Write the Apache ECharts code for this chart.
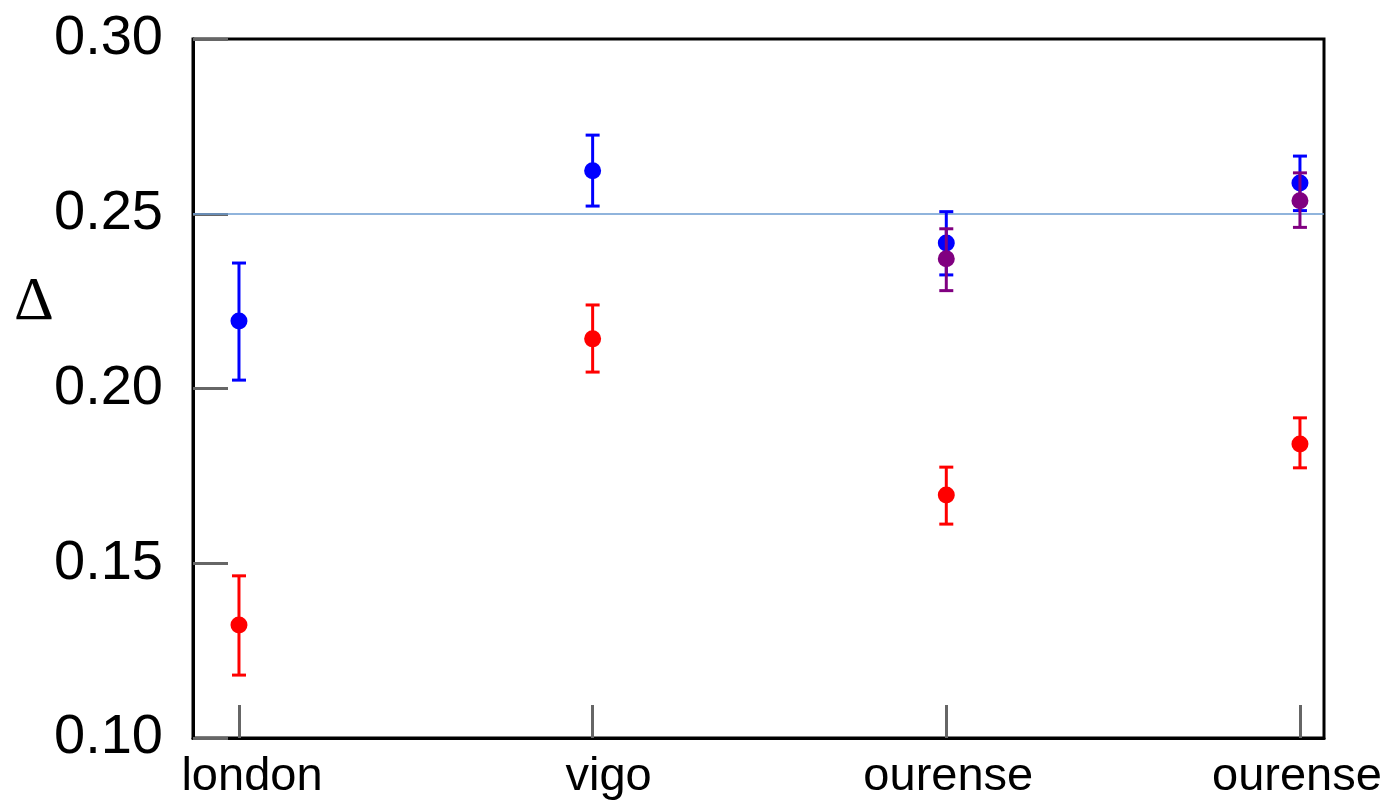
<!DOCTYPE html>
<html>
<head>
<meta charset="utf-8">
<style>
  html, body { margin: 0; padding: 0; background: #ffffff; }
  #chart { width: 1385px; height: 807px; }
</style>
<script src="https://cdn.jsdelivr.net/npm/echarts@6/dist/echarts.min.js"></script>
</head>
<body>
<div id="chart"></div>
<script>
// ---- data ----
var categories = ['london', 'vigo', 'ourense', 'ourense'];
var yTicks = [0.10, 0.15, 0.20, 0.25, 0.30];

var blueVal = [0.2193, 0.2623, 0.2416, 0.2588];
var blueLo  = [0.2024, 0.2522, 0.2325, 0.2509];
var blueHi  = [0.2359, 0.2725, 0.2506, 0.2665];

var redVal = [0.1323, 0.2142, 0.1695, 0.1841];
var redLo  = [0.1180, 0.2047, 0.1612, 0.1773];
var redHi  = [0.1464, 0.2239, 0.1775, 0.1916];

var purpleVal = [null, null, 0.2371, 0.2537];
var purpleLo  = [null, null, 0.2280, 0.2461];
var purpleHi  = [null, null, 0.2457, 0.2617];

var refLine = 0.25;

// ---- styling helpers ----
var labelPad = [[0,0,0,26],[0,0,0,32],[0,0,0,4],[0,6,0,0]];
var rich = {};
labelPad.forEach(function (p, i) {
  rich['c' + i] = { fontFamily: 'Liberation Sans, Arial, sans-serif', fontSize: 47, color: '#000', padding: p };
});

function pts(vals) {
  var out = [];
  vals.forEach(function (v, i) { if (v !== null) out.push([i, v]); });
  return out;
}
function bars(lo, hi) {
  var out = [];
  lo.forEach(function (v, i) { if (v !== null) out.push([i, lo[i], hi[i]]); });
  return out;
}
function errSeries(lo, hi, color, z) {
  return {
    type: 'custom',
    z: z,
    data: bars(lo, hi),
    encode: { x: 0, y: [1, 2] },
    renderItem: function (params, api) {
      var x = api.value(0);
      var a = api.coord([x, api.value(1)]);
      var b = api.coord([x, api.value(2)]);
      var hw = 7;
      var st = { stroke: color, lineWidth: 3 };
      return {
        type: 'group',
        children: [
          { type: 'line', shape: { x1: a[0], y1: a[1], x2: b[0], y2: b[1] }, style: st },
          { type: 'line', shape: { x1: a[0] - hw, y1: a[1], x2: a[0] + hw, y2: a[1] }, style: st },
          { type: 'line', shape: { x1: b[0] - hw, y1: b[1], x2: b[0] + hw, y2: b[1] }, style: st }
        ]
      };
    }
  };
}
function ptSeries(vals, color, z) {
  return {
    type: 'scatter',
    z: z,
    symbol: 'circle',
    symbolSize: 17,
    itemStyle: { color: color, opacity: 1 },
    data: pts(vals)
  };
}

var chart = echarts.init(document.getElementById('chart'));
chart.setOption({
  animation: false,
  backgroundColor: '#ffffff',
  title: {
    text: 'Δ',
    left: 14,
    top: 272,
    padding: 0,
    textStyle: { fontFamily: '"Liberation Serif", "Times New Roman", serif', fontSize: 62, fontWeight: 'normal', color: '#000' }
  },
  grid: {
    left: 193, right: 61, top: 39, bottom: 69,
    show: true, borderColor: '#000', borderWidth: 3, backgroundColor: 'transparent'
  },
  xAxis: {
    type: 'value',
    min: -0.13,
    max: 3.068,
    axisLine: { show: true, onZero: false, lineStyle: { color: '#000', width: 3 } },
    axisTick: { show: true, inside: true, length: 33, customValues: [0, 1, 2, 3], lineStyle: { color: '#666', width: 3 } },
    axisLabel: {
      customValues: [0, 1, 2, 3],
      margin: 16,
      formatter: function (v) { var i = Math.round(v); return '{c' + i + '|' + categories[i] + '}'; },
      rich: rich
    },
    splitLine: { show: false }
  },
  yAxis: {
    type: 'value',
    min: 0.10,
    max: 0.30,
    interval: 0.05,
    axisLine: { show: true, onZero: false, lineStyle: { color: '#000', width: 3 } },
    axisTick: { show: true, inside: true, length: 35, lineStyle: { color: '#666', width: 3 } },
    axisLabel: {
      margin: 30,
      fontFamily: 'Liberation Sans, Arial, sans-serif',
      fontSize: 56,
      color: '#000',
      formatter: function (v) { return v.toFixed(2); },
      customValues: yTicks
    },
    splitLine: { show: false }
  },
  series: [
    {
      type: 'line',
      data: [],
      z: 1,
      markLine: {
        silent: true,
        symbol: 'none',
        label: { show: false },
        lineStyle: { color: '#6b9bd1', width: 1.5, type: 'solid' },
        data: [{ yAxis: refLine }]
      }
    },
    errSeries(redLo, redHi, '#ff0000', 3),
    ptSeries(redVal, '#ff0000', 4),
    errSeries(blueLo, blueHi, '#0000ff', 5),
    ptSeries(blueVal, '#0000ff', 6),
    errSeries(purpleLo, purpleHi, '#800080', 7),
    ptSeries(purpleVal, '#800080', 8)
  ]
});
</script>
</body>
</html>
